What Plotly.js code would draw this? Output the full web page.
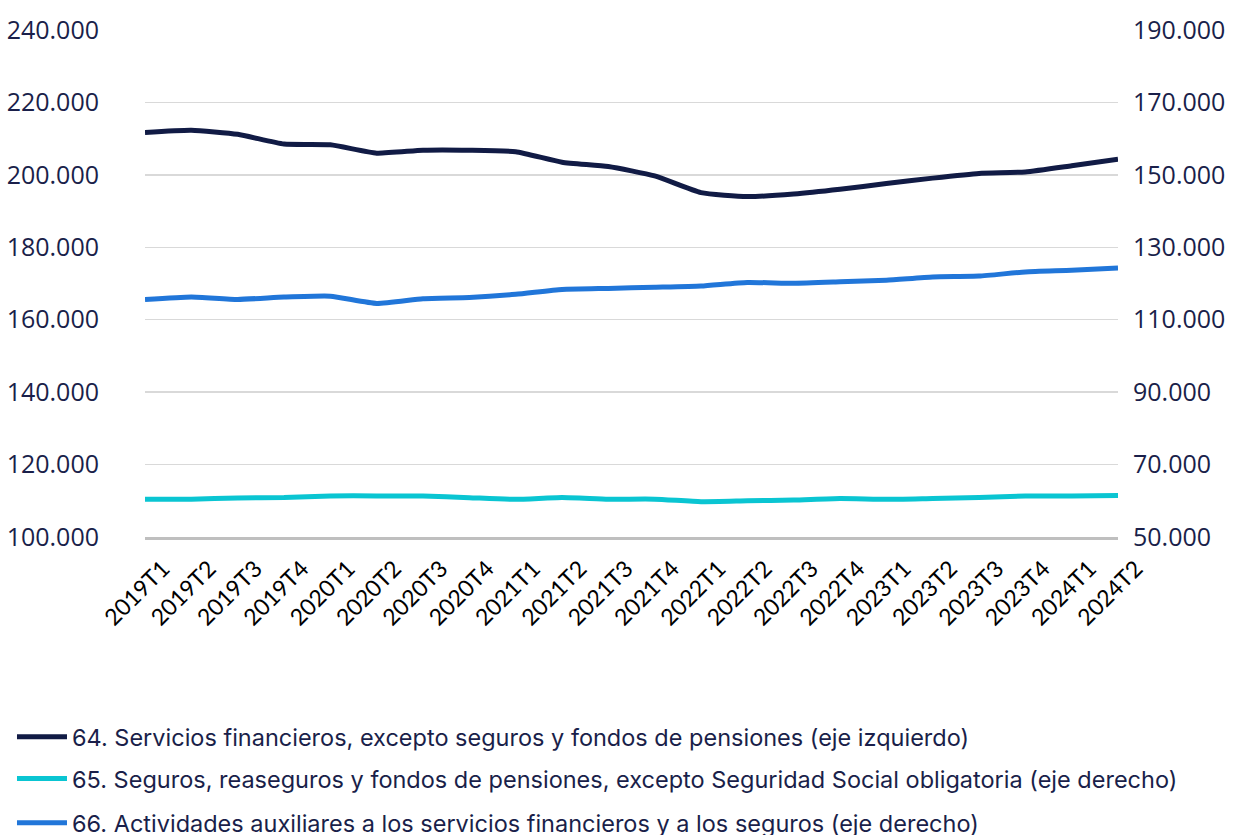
<!DOCTYPE html>
<html><head><meta charset="utf-8">
<script src="https://cdn.plot.ly/plotly-3.0.1.min.js"></script>
<style>body{margin:0;background:#fff}#c{width:1233px;height:835px}</style>
</head><body><div id="c"></div>
<script>
const categories = ["2019T1","2019T2","2019T3","2019T4","2020T1","2020T2","2020T3","2020T4","2021T1","2021T2","2021T3","2021T4","2022T1","2022T2","2022T3","2022T4","2023T1","2023T2","2023T3","2023T4","2024T1","2024T2"];
const serie64 = [211700,212300,211200,208500,208300,206000,206800,206800,206400,203500,202300,199700,195100,194000,194700,196000,197600,199100,200400,200800,202500,204300];
const serie65 = [60400,60450,60800,60900,61350,61350,61300,60850,60400,60900,60450,60450,59750,60000,60200,60650,60400,60650,60900,61300,61300,61450];
const serie66 = [115600,116300,115600,116250,116500,114500,115800,116150,117000,118350,118650,118950,119300,120300,120050,120450,120900,121800,122050,123200,123650,124300];
const names = ["64. Servicios financieros, excepto seguros y fondos de pensiones (eje izquierdo)",
"65. Seguros, reaseguros y fondos de pensiones, excepto Seguridad Social obligatoria (eje derecho)",
"66. Actividades auxiliares a los servicios financieros y a los seguros (eje derecho)"];
const colors = ["#111B45","#0AC5D2","#2176D9"];

const line = (c)=>({color:c,width:5,shape:'spline',smoothing:0.5});
const traces = [
 {x:categories,y:serie64,name:names[0],type:'scatter',mode:'lines',line:line(colors[0]),yaxis:'y',legend:'legend'},
 {x:categories,y:serie65,name:names[1],type:'scatter',mode:'lines',line:line(colors[1]),yaxis:'y2',legend:'legend2'},
 {x:categories,y:serie66,name:names[2],type:'scatter',mode:'lines',line:line(colors[2]),yaxis:'y2',legend:'legend3'}
];
const tickFont = {family:'Open Sans, sans-serif',size:25,color:'#1A1F4A'};
const legFont = {family:'Inter, sans-serif',size:23.5,color:'#1A1F4A'};
const leg = (y)=>({x:-0.1367,xanchor:'left',y:y,yanchor:'middle',font:legFont,bgcolor:'rgba(0,0,0,0)',itemwidth:50});
const layout = {
 width:1233,height:835,
 margin:{l:145,r:115,t:30,b:298,autoexpand:false},
 separators:',.',
 paper_bgcolor:'#fff',plot_bgcolor:'#fff',
 showlegend:true,
 xaxis:{type:'category',tickangle:-45,tickfont:{family:'Lato, sans-serif',size:23,color:'#000'},automargin:false,
   showline:true,linecolor:'#BFBFBF',linewidth:3,showgrid:false,ticks:'',ticklabelshift:18,ticklabelstandoff:6,fixedrange:true},
 yaxis:{range:[100000,240000],dtick:20000,tick0:100000,tickformat:',d',tickfont:tickFont,showgrid:true,gridcolor:'#D9D9D9',gridwidth:1.5,
   zeroline:false,ticks:'outside',ticklen:40,tickcolor:'rgba(0,0,0,0)',showline:false,automargin:false},
 yaxis2:{range:[50000,190000],dtick:20000,tick0:50000,tickformat:',d',tickfont:tickFont,overlaying:'y',side:'right',showgrid:false,
   zeroline:false,ticks:'outside',ticklen:9,tickcolor:'rgba(0,0,0,0)',showline:false,automargin:false},
 legend:leg(-0.3945),
 legend2:leg(-0.477),
 legend3:leg(-0.564)
};
Plotly.newPlot('c',traces,layout,{displayModeBar:false,staticPlot:true});
</script></body></html>
